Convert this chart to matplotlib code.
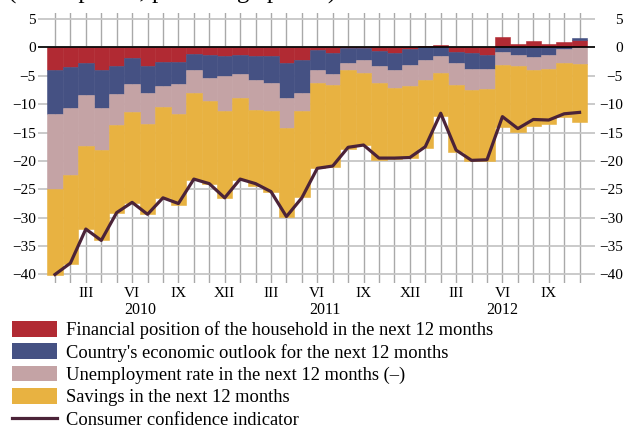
import numpy as np
import matplotlib
matplotlib.use("Agg")
import matplotlib.pyplot as plt
from matplotlib.patches import Rectangle
from matplotlib.lines import Line2D

plt.rcParams['font.family'] = ['Liberation Serif', 'DejaVu Serif']

# ---- data (Jan 2010 .. Nov 2012, monthly) ----
months = list(range(35))
financial = [-3.9, -3.5, -2.8, -3.9, -3.2, -1.9, -3.3, -2.5, -2.5, -1.1, -1.4, -1.5,
             -1.4, -1.5, -1.5, -2.7, -2.2, -0.5, -1.06, -0.1, -0.05, -0.65, -1.06, -0.3,
             0.24, 0.4, -0.77, -1.0, -1.36, 1.81, 0.58, 1.1, 0.58, 0.93, 1.29]
economic = [-7.8, -7.2, -5.6, -6.7, -5.1, -4.6, -4.75, -4.3, -3.96, -2.9, -4.0, -3.6,
            -3.3, -4.26, -4.8, -6.2, -5.85, -3.5, -3.64, -2.6, -2.2, -2.65, -2.94, -2.8,
            -2.24, -1.53, -1.99, -2.82, -2.46, -0.83, -1.36, -1.7, -1.36, -0.3, 0.35]
unemployment = [-13.3, -11.8, -9.0, -7.5, -5.4, -4.9, -5.45, -3.7, -5.28, -4.05, -4.05, -6.1,
                -4.2, -5.24, -4.9, -5.3, -3.15, -2.35, -1.94, -1.3, -2.34, -3.05, -3.2, -3.7,
                -3.52, -2.94, -3.88, -3.68, -3.52, -2.29, -1.94, -2.3, -2.46, -2.4, -3.0]
savings = [-15.1, -15.6, -14.6, -15.8, -15.5, -16.0, -15.9, -16.1, -15.96, -15.25, -14.65, -15.3,
           -14.5, -13.5, -14.2, -15.6, -15.2, -14.95, -14.36, -13.96, -12.62, -13.49, -12.5, -12.7,
           -12.04, -7.63, -11.76, -12.46, -12.62, -10.88, -11.56, -9.86, -9.68, -9.6, -10.1]
confidence = [-40.0, -38.0, -32.0, -34.0, -29.1, -27.3, -29.4, -26.5, -27.5, -23.2, -24.0, -26.5,
              -23.2, -24.0, -25.4, -29.8, -26.5, -21.3, -20.9, -17.6, -17.2, -19.5, -19.5, -19.4,
              -17.5, -11.6, -18.1, -19.9, -19.8, -12.2, -14.3, -12.7, -12.8, -11.7, -11.45]

series_labels = ["Financial position of the household in the next 12 months",
                 "Country's economic outlook for the next 12 months",
                 "Unemployment rate in the next 12 months (\u2013)",
                 "Savings in the next 12 months"]
line_label = "Consumer confidence indicator"
colors = ["#b12a33", "#455183", "#c4a3a5", "#e8b241"]
line_color = "#4b2338"

roman = {2: "III", 5: "VI", 8: "IX", 11: "XII"}
years = [(5.5, "2010"), (17.5, "2011"), (29.0, "2012")]
yticks = list(range(-40, 6, 5))

W, H = 624, 428
fig = plt.figure(figsize=(W / 100, H / 100), dpi=100)

def fx(px):
    return px / W

def fy(py):
    return 1 - py / H

ax_left, ax_right, ax_top, ax_bot = 38, 595, 13.3, 283
ax = fig.add_axes([fx(ax_left), fy(ax_bot), fx(ax_right - ax_left), (ax_bot - ax_top) / H])

x = np.array(months)
pos_b = np.zeros(len(x))
neg_b = np.zeros(len(x))
handles = []
for vals, col, lab in zip([financial, economic, unemployment, savings], colors, series_labels):
    v = np.array(vals, dtype=float)
    bottom = np.where(v >= 0, pos_b, neg_b)
    bc = ax.bar(x, v, bottom=bottom, width=1.0, color=col, edgecolor=col,
                linewidth=0.4, zorder=2, label=lab)
    handles.append(bc)
    pos_b = pos_b + np.where(v >= 0, v, 0)
    neg_b = neg_b + np.where(v < 0, v, 0)

ax.axhline(0, color="black", lw=1.2, zorder=3)
ln, = ax.plot(x, confidence, color=line_color, lw=2.3, zorder=4, label=line_label)

ax.set_xlim(-1.1, 35.0)
ax.set_ylim(-41.5, 6.0)
ax.set_yticks(yticks)
ax.set_xticks(months)
ax.set_xticklabels([roman.get(m % 12, "") for m in months], fontsize=11)
ax.tick_params(axis='x', length=0, pad=3)
ax.tick_params(axis='y', length=0, pad=1.5, labelsize=11)
ax.grid(axis='x', color="#a9a9a9", lw=1.0, zorder=0)
ax.grid(axis='y', color="#c6c6c6", lw=1.3, zorder=0)
ax.set_axisbelow(True)
for s in ax.spines.values():
    s.set_visible(False)

ax2 = ax.twinx()
ax2.set_ylim(ax.get_ylim())
ax2.set_yticks(yticks)
ax2.tick_params(axis='y', length=0, pad=20, labelsize=11)
for lab in ax2.get_yticklabels():
    lab.set_horizontalalignment('right')
for s in ax2.spines.values():
    s.set_visible(False)

for xv, yr in years:
    ax.text(xv, fy(309.5), yr, transform=matplotlib.transforms.blended_transform_factory(ax.transData, fig.transFigure),
            ha='center', va='center', fontsize=11.5)

# heading cropped at the very top edge (only its descenders show, as in the source image)
fig.text(fx(8), fy(-1.0), "(index points, percentage points)", fontsize=18, ha='left', va='baseline')

# legend
row0, step = 328.8, 22.4
for i in range(5):
    yc = row0 + i * step
    if i < 4:
        fig.add_artist(Rectangle((fx(12), fy(yc + 7.85)), fx(45), 15.7 / H,
                                 transform=fig.transFigure, facecolor=colors[i], edgecolor='none'))
        txt = series_labels[i]
    else:
        fig.add_artist(Line2D([fx(12), fx(57)], [fy(yc), fy(yc)], transform=fig.transFigure,
                              color=line_color, lw=2.3))
        txt = line_label
    fig.text(fx(66), fy(yc + 6.5), txt, fontsize=13.3, ha='left', va='baseline')

fig.savefig("out.png", dpi=100)
